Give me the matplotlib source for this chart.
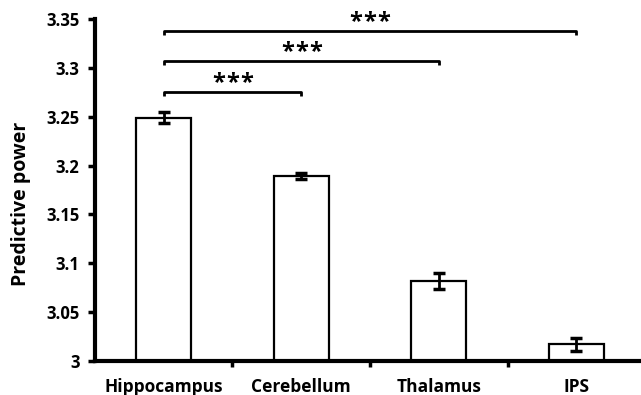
import matplotlib
matplotlib.use("Agg")
import matplotlib.pyplot as plt
from matplotlib.transforms import offset_copy

categories = ["Hippocampus", "Cerebellum", "Thalamus", "IPS"]
values = [3.249, 3.189, 3.082, 3.017]
errors = [0.0055, 0.003, 0.0083, 0.007]
yticks = [3, 3.05, 3.1, 3.15, 3.2, 3.25, 3.3, 3.35]
ytick_labels = ["3", "3.05", "3.1", "3.15", "3.2", "3.25", "3.3", "3.35"]
# significance brackets: (from index, to index, level, label)
brackets = [(0, 1, 3.275, "***"), (0, 2, 3.307, "***"), (0, 3, 3.338, "***")]

plt.rcParams['font.family'] = ['Open Sans', 'DejaVu Sans']
plt.rcParams['font.weight'] = 'bold'

fig = plt.figure(figsize=(6.41, 3.95), dpi=100)
ax = fig.add_axes([0.148, 0.086, 0.852, 0.866])

x = list(range(len(categories)))
ax.bar(x, values, width=0.4, color='white', edgecolor='black', linewidth=1.6, zorder=2)
ax.errorbar(x, values, yerr=errors, fmt='none', ecolor='black', elinewidth=2,
            capsize=4, capthick=2.5, zorder=3)

ax.set_ylim(3, 3.35)
ax.set_xlim(-0.5, 3.47)
ax.set_yticks(yticks)
ax.set_yticklabels(ytick_labels, fontsize=12, fontweight='bold')
ax.set_xticks(x)
ax.set_xticklabels(categories, fontsize=12.5, fontweight='bold')
ax.tick_params(axis='x', length=0, pad=12)
ax.set_xticks([0.5, 1.5, 2.5], minor=True)
ax.tick_params(axis='x', which='minor', length=4, width=2.5, direction='out')
ax.tick_params(axis='y', length=5, width=2.5, direction='out', pad=6)
ax.set_ylabel("Predictive power", fontsize=14, fontweight='bold', labelpad=11, y=0.46)

for s in ['top', 'right']:
    ax.spines[s].set_visible(False)
for s in ['left', 'bottom']:
    ax.spines[s].set_linewidth(3)

for i, j, lvl, lab in brackets:
    d = 0.004
    ax.plot([i, i, j, j], [lvl - d, lvl, lvl, lvl - d], color='black', lw=2,
            clip_on=False, solid_capstyle='butt')
    n = len(lab)
    for k, ch in enumerate(lab):
        dx = (k - (n - 1) / 2) * 14
        tr = offset_copy(ax.transData, fig=fig, x=dx, y=4, units='dots')
        ax.text((i + j) / 2, lvl - 0.001, ch, ha='center', va='baseline', fontsize=17,
                fontweight='bold', clip_on=False, transform=tr)

fig.savefig("out.png", dpi=100)
